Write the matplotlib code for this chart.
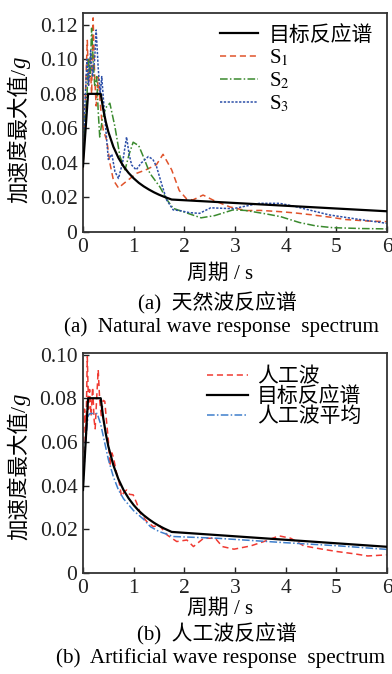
import matplotlib
matplotlib.use("Agg")
import matplotlib.pyplot as plt

plt.rcParams['font.family'] = ['Liberation Serif', 'Noto Sans CJK SC']
plt.rcParams['mathtext.fontset'] = 'stix'

# ---------------- data ----------------
# Target (code) response spectrum
target_T = [0, 0.1, 0.35, 0.4, 0.45, 0.5, 0.6, 0.7, 0.8, 0.9, 1.0, 1.1, 1.2, 1.3,
            1.4, 1.5, 1.6, 1.75, 6.0]
target_A = [0.038, 0.08, 0.08, 0.0709, 0.0638, 0.0580, 0.0493, 0.0429, 0.0380, 0.0342,
            0.0311, 0.0285, 0.0264, 0.0246, 0.0230, 0.0216, 0.0204, 0.0188, 0.0120]

# Natural waves
s1_T = [0, 0.03, 0.06, 0.085, 0.11, 0.14, 0.17, 0.2, 0.23, 0.26, 0.3, 0.33, 0.37, 0.4,
        0.47, 0.53, 0.6, 0.7, 0.8, 0.93, 1.06, 1.24, 1.45, 1.58, 1.75, 1.9, 2.05, 2.17,
        2.37, 2.6, 2.9, 3.22, 3.5, 3.88, 4.2, 4.53, 4.9, 5.19, 5.6, 6.0]
s1_A = [0.036, 0.06, 0.09, 0.111, 0.085, 0.1, 0.08, 0.124, 0.09, 0.073, 0.09, 0.078,
        0.065, 0.059, 0.053, 0.04, 0.030, 0.0255, 0.028, 0.031, 0.034, 0.036, 0.039,
        0.045, 0.036, 0.024, 0.019, 0.0186, 0.0214, 0.018, 0.0145, 0.0124, 0.0125,
        0.0118, 0.011, 0.0099, 0.0085, 0.0072, 0.0064, 0.006]

s2_T = [0, 0.04, 0.08, 0.11, 0.14, 0.17, 0.2, 0.23, 0.27, 0.3, 0.33, 0.38, 0.45, 0.53,
        0.63, 0.73, 0.83, 0.91, 0.99, 1.1, 1.19, 1.32, 1.52, 1.65, 1.78, 1.91, 2.1,
        2.33, 2.6, 2.96, 3.2, 3.61, 3.9, 4.27, 4.6, 4.93, 5.5, 6.0]
s2_A = [0.04, 0.065, 0.08, 0.1, 0.09, 0.118, 0.1, 0.085, 0.09, 0.07, 0.055, 0.065,
        0.072, 0.0746, 0.061, 0.0437, 0.036, 0.045, 0.052, 0.05, 0.0437, 0.034, 0.026,
        0.019, 0.0137, 0.0124, 0.0105, 0.0082, 0.0095, 0.0128, 0.0125, 0.0105, 0.0089,
        0.0055, 0.0035, 0.0025, 0.002, 0.0018]

s3_T = [0, 0.04, 0.08, 0.11, 0.15, 0.19, 0.23, 0.26, 0.3, 0.34, 0.37, 0.42, 0.5, 0.57,
        0.63, 0.7, 0.78, 0.86, 0.91, 0.96, 1.05, 1.15, 1.29, 1.38, 1.45, 1.55, 1.65,
        1.78, 1.91, 2.1, 2.3, 2.52, 2.96, 3.48, 3.88, 4.14, 4.5, 4.86, 5.4, 6.0]
s3_A = [0.044, 0.075, 0.1, 0.085, 0.105, 0.09, 0.1, 0.117, 0.095, 0.08, 0.09, 0.07,
        0.042, 0.045, 0.035, 0.031, 0.04, 0.055, 0.045, 0.0388, 0.036, 0.04, 0.0437,
        0.042, 0.038, 0.028, 0.0186, 0.0128, 0.0124, 0.0112, 0.0108, 0.014, 0.0135,
        0.0166, 0.0166, 0.0151, 0.0125, 0.0099, 0.0075, 0.005]

# Artificial wave
art_T = [0, 0.03, 0.06, 0.085, 0.11, 0.13, 0.16, 0.19, 0.22, 0.24, 0.27, 0.3, 0.33,
         0.36, 0.4, 0.43, 0.47, 0.5, 0.53, 0.57, 0.6, 0.66, 0.71, 0.76, 0.81, 0.86,
         0.92, 0.99, 1.06, 1.13, 1.26, 1.39, 1.5, 1.66, 1.85, 2.05, 2.18, 2.38, 2.61,
         2.75, 2.98, 3.31, 3.57, 3.87, 4.1, 4.36, 4.7, 5.02, 5.35, 5.62, 6.0]
art_A = [0.046, 0.075, 0.065, 0.099, 0.075, 0.084, 0.072, 0.085, 0.07, 0.066, 0.08,
         0.093, 0.079, 0.072, 0.079, 0.0786, 0.068, 0.061, 0.049, 0.055, 0.053, 0.046,
         0.042, 0.035, 0.037, 0.038, 0.036, 0.0358, 0.032, 0.0274, 0.0235, 0.0212,
         0.022, 0.0174, 0.0144, 0.0151, 0.0121, 0.0159, 0.0159, 0.0121, 0.0109, 0.0124,
         0.0144, 0.017, 0.0159, 0.0124, 0.011, 0.0098, 0.0088, 0.0078, 0.0083]

avg_T = [0, 0.05, 0.1, 0.14, 0.28, 0.35, 0.41, 0.5, 0.6, 0.7, 0.8, 1.0, 1.2, 1.33, 1.5,
         1.78, 2.65, 3.97, 5.0, 6.0]
avg_A = [0.040, 0.06, 0.072, 0.073, 0.073, 0.068, 0.0616, 0.052, 0.044, 0.038, 0.034,
         0.0285, 0.0245, 0.0212, 0.019, 0.0167, 0.0159, 0.0139, 0.0125, 0.0108]

x_ticks = [0, 1, 2, 3, 4, 5, 6]
y_ticks_a = [0, 0.02, 0.04, 0.06, 0.08, 0.10, 0.12]
y_ticks_b = [0, 0.02, 0.04, 0.06, 0.08, 0.10]
y_ticklabels_a = ['0', '0.02', '0.04', '0.06', '0.08', '0.10', '0.12']
y_ticklabels_b = ['0', '0.02', '0.04', '0.06', '0.08', '0.10']

# ---------------- figure ----------------
W, H = 392, 674
fig = plt.figure(figsize=(W / 100, H / 100), dpi=100)

def ax_rect(l, t, r, b):
    return [l / W, 1 - b / H, (r - l) / W, (b - t) / H]

FS = 15.5      # ticks
FL = 15        # legend
FC = 15        # captions / labels
CJK = ['Liberation Serif', 'Noto Sans CJK SC']

def style_axes(ax, yt, ytl, ymax):
    ax.set_xlim(0, 6)
    ax.set_ylim(0, ymax)
    ax.set_xticks(x_ticks)
    ax.set_xticklabels([str(v) for v in x_ticks])
    ax.set_yticks(yt)
    ax.set_yticklabels(ytl)
    ax.tick_params(direction='in', length=4, width=1.0, labelsize=FS, colors='#222222')
    ax.tick_params(axis='x', pad=4)
    ax.tick_params(axis='y', pad=4)
    for s in ax.spines.values():
        s.set_linewidth(1.3)
        s.set_color('#333333')

ax1 = fig.add_axes(ax_rect(83, 12.7, 387, 232))
ax1.plot(target_T, target_A, color='black', lw=1.6, label='目标反应谱', zorder=5)
ax1.plot(s1_T, s1_A, color='#e0532b', lw=1.1, ls=(0, (4, 2.5)), label='S$_1$')
ax1.plot(s2_T, s2_A, color='#3a8a2e', lw=1.1, ls=(0, (5, 1.5, 1, 1.5)), label='S$_2$')
ax1.plot(s3_T, s3_A, color='#2c4fa8', lw=1.1, ls=(0, (1.5, 1)), label='S$_3$')
style_axes(ax1, y_ticks_a, y_ticklabels_a, 0.127)
ax1.legend(loc='upper left', bbox_to_anchor=(0.45, 0.94), frameon=False,
           prop={'family': CJK, 'size': FL}, handlelength=1.85, handletextpad=0.5,
           labelspacing=0.1, borderpad=0, borderaxespad=0)

ax2 = fig.add_axes(ax_rect(83, 353, 387, 573))
ax2.plot(art_T, art_A, color='#f03a32', lw=1.1, ls=(0, (4, 2.5)), label='人工波')
ax2.plot(target_T, target_A, color='black', lw=1.6, label='目标反应谱', zorder=5)
ax2.plot(avg_T, avg_A, color='#3f7fcc', lw=1.1, ls=(0, (5, 1.5, 1, 1.5)), label='人工波平均')
style_axes(ax2, y_ticks_b, y_ticklabels_b, 0.1007)
ax2.legend(loc='upper left', bbox_to_anchor=(0.408, 0.935), frameon=False,
           prop={'family': CJK, 'size': FL}, handlelength=1.95, handletextpad=0.45,
           labelspacing=0.02, borderpad=0, borderaxespad=0)

# labels and captions
def ylabel(x_px, ybot_px):
    t1 = fig.text(x_px / W, 1 - ybot_px / H, '加速度最大值/', rotation=90,
                  ha='center', va='bottom', family=CJK, fontsize=FS)
    fig.canvas.draw()
    bb = t1.get_window_extent()
    fig.text(x_px / W, bb.y1 / H, 'g', rotation=90, ha='center', va='bottom',
             family='Liberation Serif', style='italic', fontsize=FS + 1)

ylabel(20, 203)
ylabel(20, 540)

def ctext(x_px, y_px, s, size=FC):
    fig.text(x_px / W, 1 - y_px / H, s, ha='center', va='center', family=CJK,
             fontsize=size)

ctext(220, 274, '周期 / s')
ctext(217, 303, '(a)  天然波反应谱')
ctext(221, 327, '(a)  Natural wave response  spectrum', 15.2)
ctext(220, 609, '周期 / s')
ctext(217, 634, '(b)  人工波反应谱')
ctext(221, 658, '(b)  Artificial wave response  spectrum', 15.2)

fig.savefig('out.png', dpi=100)
